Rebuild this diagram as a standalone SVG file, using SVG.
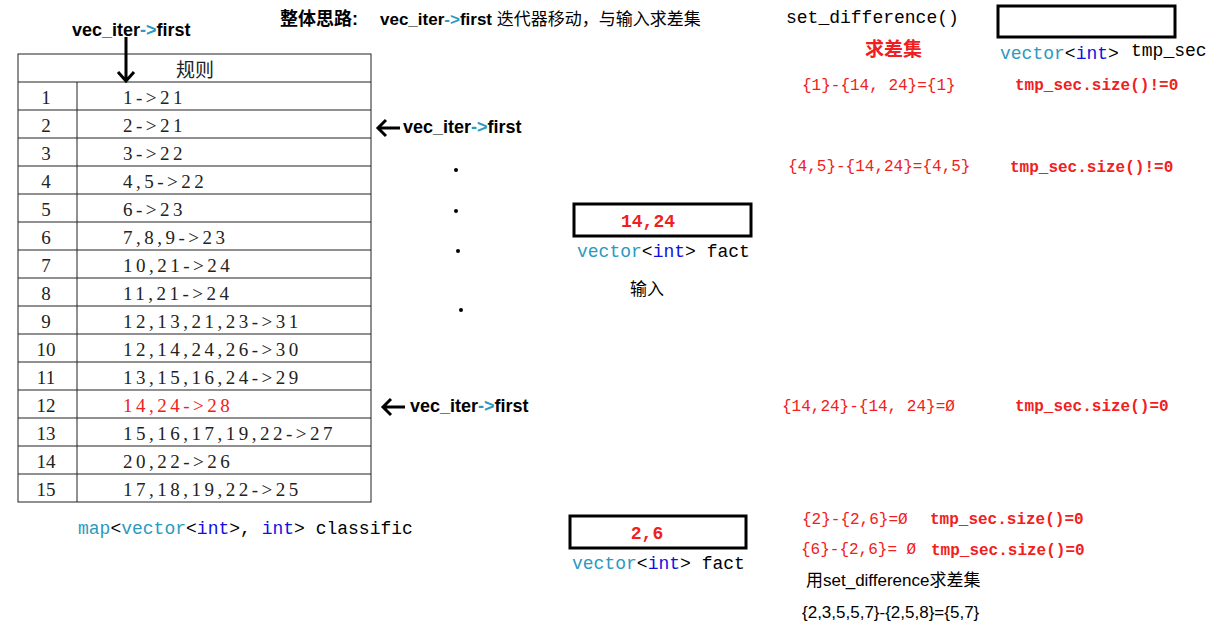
<svg xmlns="http://www.w3.org/2000/svg" width="1207" height="626" viewBox="0 0 1207 626">
<style>
.s{font-family:"Liberation Serif","Noto Sans CJK SC",serif;font-size:19px;fill:#222}
.t{letter-spacing:3.5px}
.h{font-family:"Liberation Sans","Noto Sans CJK SC",sans-serif;font-size:18px;font-weight:bold;fill:#000}
.m{font-family:"Liberation Mono","Noto Sans CJK SC",monospace;font-size:18px;fill:#000}
.r{fill:#f02020}
.c{fill:#2a9ac0}
.b{fill:#1010e0}
.k{stroke:#000;stroke-width:3;fill:none}
.l{stroke:#222;stroke-width:1;fill:none}
.z{font-family:"Liberation Sans","Noto Sans CJK SC",sans-serif;font-size:17px;fill:#000}
</style>
<rect width="1207" height="626" fill="#fff"/>
<g id="table">
<rect x="18" y="54" width="353" height="448" class="l"/>
<line x1="77" y1="82" x2="77" y2="502" class="l"/>
<g class="l">
<line x1="18" y1="82" x2="371" y2="82"/><line x1="18" y1="110" x2="371" y2="110"/><line x1="18" y1="138" x2="371" y2="138"/><line x1="18" y1="166" x2="371" y2="166"/><line x1="18" y1="194" x2="371" y2="194"/><line x1="18" y1="222" x2="371" y2="222"/><line x1="18" y1="250" x2="371" y2="250"/><line x1="18" y1="278" x2="371" y2="278"/><line x1="18" y1="306" x2="371" y2="306"/><line x1="18" y1="334" x2="371" y2="334"/><line x1="18" y1="362" x2="371" y2="362"/><line x1="18" y1="390" x2="371" y2="390"/><line x1="18" y1="418" x2="371" y2="418"/><line x1="18" y1="446" x2="371" y2="446"/><line x1="18" y1="474" x2="371" y2="474"/>
</g>
<text x="195" y="77" class="s" text-anchor="middle">规则</text>
<g class="s" text-anchor="middle">
<text x="46" y="104">1</text><text x="46" y="132">2</text><text x="46" y="160">3</text><text x="46" y="188">4</text><text x="46" y="216">5</text><text x="46" y="244">6</text><text x="46" y="272">7</text><text x="46" y="300">8</text><text x="46" y="328">9</text><text x="46" y="356">10</text><text x="46" y="384">11</text><text x="46" y="412">12</text><text x="46" y="440">13</text><text x="46" y="468">14</text><text x="46" y="496">15</text>
</g>
<g class="s t">
<text x="123" y="104">1-&gt;21</text><text x="123" y="132">2-&gt;21</text><text x="123" y="160">3-&gt;22</text><text x="123" y="188">4,5-&gt;22</text><text x="123" y="216">6-&gt;23</text><text x="123" y="244">7,8,9-&gt;23</text><text x="123" y="272">10,21-&gt;24</text><text x="123" y="300">11,21-&gt;24</text><text x="123" y="328">12,13,21,23-&gt;31</text><text x="123" y="356">12,14,24,26-&gt;30</text><text x="123" y="384">13,15,16,24-&gt;29</text><text x="123" y="412" class="r">14,24-&gt;28</text><text x="123" y="440">15,16,17,19,22-&gt;27</text><text x="123" y="468">20,22-&gt;26</text><text x="123" y="496">17,18,19,22-&gt;25</text>
</g>
</g>
<g id="connectors">
<path d="M126 37V81M118 72L126 81L134 72" class="k" stroke-width="2.5"/>
<path d="M400 128H378M386 120L378 128L386 136" class="k" stroke-width="2.5"/>
<path d="M405 407H383M391 399L383 407L391 415" class="k" stroke-width="2.5"/>
</g>
<g id="labels">
<text x="72" y="36" class="h">vec_iter<tspan class="c">-&gt;</tspan>first</text>
<text x="403" y="133" class="h">vec_iter<tspan class="c">-&gt;</tspan>first</text>
<text x="410" y="412" class="h">vec_iter<tspan class="c">-&gt;</tspan>first</text>
<text x="280" y="25" class="h">整体思路:</text>
<text x="380" y="25" class="z"><tspan font-weight="bold">vec_iter<tspan class="c">-&gt;</tspan>first</tspan> 迭代器移动，与输入求差集</text>
<text x="786" y="23" class="m">set_difference()</text>
<text x="865" y="56" class="s r" font-weight="bold" font-size="17">求差集</text>
<text x="78" y="534" class="m"><tspan class="c">map</tspan>&lt;<tspan class="c">vector</tspan>&lt;<tspan class="b">int</tspan>&gt;, <tspan class="b">int</tspan>&gt; classific</text>
</g>
<g id="dots" fill="#000">
<circle cx="456" cy="170" r="2"/><circle cx="456" cy="211" r="2"/><circle cx="458" cy="251" r="2"/><circle cx="461" cy="310" r="2"/>
</g>
<g id="tmp_sec">
<rect x="998" y="6" width="177" height="31" class="k"/>
<text x="1000" y="59" class="m"><tspan class="c">vector</tspan>&lt;<tspan class="b">int</tspan>&gt;</text>
<text x="1131" y="56" class="m" font-size="16">tmp_sec</text>
</g>
<g id="fact1">
<rect x="574" y="204" width="177" height="32" class="k"/>
<text x="648" y="227" class="m r" font-weight="bold" text-anchor="middle">14,24</text>
<text x="577" y="257" class="m"><tspan class="c">vector</tspan>&lt;<tspan class="b">int</tspan>&gt; fact</text>
<text x="630" y="295" class="z">输入</text>
</g>
<g id="fact2">
<rect x="570" y="516" width="176" height="32" class="k"/>
<text x="647" y="539" class="m r" font-weight="bold" text-anchor="middle">2,6</text>
<text x="572" y="569" class="m"><tspan class="c">vector</tspan>&lt;<tspan class="b">int</tspan>&gt; fact</text>
</g>
<g id="results" class="m r">
<text x="802" y="90" font-size="16">{1}-{14, 24}={1}</text>
<text x="1015" y="90" font-size="16" font-weight="bold">tmp_sec.size()!=0</text>
<text x="788" y="171" font-size="16">{4,5}-{14,24}={4,5}</text>
<text x="1010" y="172" font-size="16" font-weight="bold">tmp_sec.size()!=0</text>
<text x="782" y="411" font-size="16">{14,24}-{14, 24}=Ø</text>
<text x="1015" y="411" font-size="16" font-weight="bold">tmp_sec.size()=0</text>
<text x="802" y="524" font-size="16">{2}-{2,6}=Ø</text>
<text x="930" y="524" font-size="16" font-weight="bold">tmp_sec.size()=0</text>
<text x="801" y="554" font-size="16">{6}-{2,6}= Ø</text>
<text x="931" y="555" font-size="16" font-weight="bold">tmp_sec.size()=0</text>
</g>
<text x="806" y="586" class="z">用set_difference求差集</text>
<text x="802" y="618" class="z">{2,3,5,5,7}-{2,5,8}={5,7}</text>
</svg>
